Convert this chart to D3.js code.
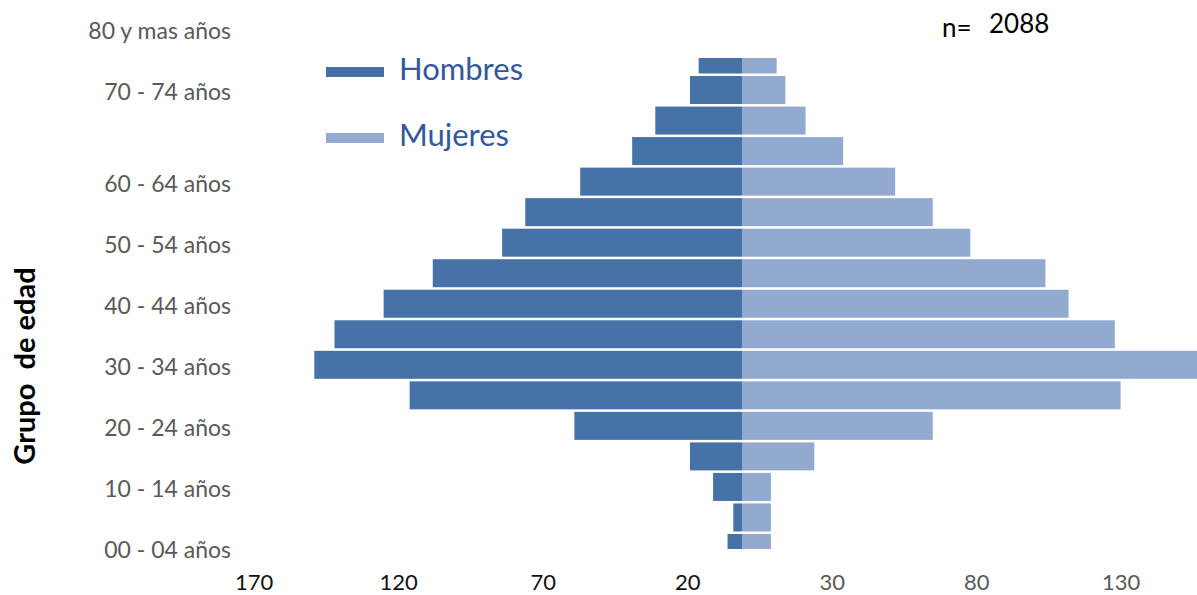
<!DOCTYPE html>
<html>
<head>
<meta charset="utf-8">
<script src="https://cdn.jsdelivr.net/npm/d3@7"></script>
<style>
  body { margin: 0; background: #fff; }
  svg { display: block; font-family: 'Lato', 'Open Sans', sans-serif; }
</style>
</head>
<body>
<div id="chart"></div>
<script>
// grupos de edad, de abajo hacia arriba
const ageGroups = ['00 - 04 años', '05 - 09 años', '10 - 14 años', '15 - 19 años', '20 - 24 años',
    '25 - 29 años', '30 - 34 años', '35 - 39 años', '40 - 44 años', '45 - 49 años', '50 - 54 años',
    '55 - 59 años', '60 - 64 años', '65 - 69 años', '70 - 74 años', '75 - 79 años', '80 y mas años'];
const hombres = [5, 3, 10, 18, 58, 115, 148, 141, 124, 107, 83, 75, 56, 38, 30, 18, 15];
const mujeres = [10, 10, 10, 25, 66, 131, 163, 129, 113, 105, 79, 66, 53, 35, 22, 15, 12];

// etiquetas del eje vertical (posicion en indice de grupo)
const yTickIdx = [0, 2, 4, 6, 8, 10, 12, 15, 17];
const yTickLabels = ['00 - 04 años', '10 - 14 años', '20 - 24 años', '30 - 34 años', '40 - 44 años',
    '50 - 54 años', '60 - 64 años', '70 - 74 años', '80 y mas años'];
const xTicks = [-170, -120, -70, -20, 30, 80, 130];

const series = ['Hombres', 'Mujeres'];
const colors = ['#4672a7', '#92aacf'];
const total = 2088;

const [svgWidth, svgHeight] = [1197, 595];

const svg = d3.select('#chart').append('svg')
    .attr('width', svgWidth)
    .attr('height', svgHeight);

const x = d3.scaleLinear().domain([-100, 100]).range([742 - 289, 742 + 289]);
const y = d3.scaleLinear().domain([0, 16]).range([548, 59.5]);
const barH = 28;

svg.append('clipPath').attr('id', 'plot')
    .append('rect').attr('x', 0).attr('y', 58).attr('width', svgWidth).attr('height', 491);

const bars = svg.append('g').attr('clip-path', 'url(#plot)');

bars.selectAll('rect.h')
    .data(hombres)
    .join('rect')
    .attr('class', 'h')
    .attr('x', d => x(-d))
    .attr('width', d => x(0) - x(-d))
    .attr('y', (d, i) => y(i) - barH / 2)
    .attr('height', barH)
    .attr('fill', colors[0]);

bars.selectAll('rect.m')
    .data(mujeres)
    .join('rect')
    .attr('class', 'm')
    .attr('x', x(0))
    .attr('width', d => x(d) - x(0))
    .attr('y', (d, i) => y(i) - barH / 2)
    .attr('height', barH)
    .attr('fill', colors[1]);

// eje vertical
const yAxis = svg.append('g')
    .attr('transform', 'translate(231,2)')
    .call(d3.axisLeft(y).tickValues(yTickIdx).tickFormat((d, i) => yTickLabels[i]).tickSize(0).tickPadding(0));
yAxis.select('.domain').remove();
yAxis.selectAll('text')
    .attr('fill', '#595959')
    .style('font-size', '23px')
    .style('font-family', 'Lato, sans-serif');

// eje horizontal
const xAxis = svg.append('g')
    .attr('transform', 'translate(3,574)')
    .call(d3.axisBottom(x).tickValues(xTicks).tickFormat(d => Math.abs(d)).tickSize(0).tickPadding(0));
xAxis.select('.domain').remove();
xAxis.selectAll('text')
    .attr('fill', d => d < 0 ? '#111' : '#595959')
    .style('font-size', '22px')
    .style('font-family', 'Lato, sans-serif');

// titulo del eje
svg.append('text')
    .attr('transform', 'translate(35,366) rotate(-90)')
    .attr('text-anchor', 'middle')
    .attr('font-weight', 'bold')
    .attr('font-size', 29)
    .attr('fill', '#000')
    .attr('xml:space', 'preserve')
    .text('Grupo  de edad');

// leyenda
const legend = svg.append('g');
const legendY = [72, 138];
series.forEach((s, i) => {
    legend.append('rect')
        .attr('x', 326)
        .attr('y', legendY[i] - 5)
        .attr('width', 58)
        .attr('height', 10)
        .attr('fill', colors[i]);
    legend.append('text')
        .attr('x', 399)
        .attr('y', legendY[i] + 8)
        .attr('font-size', 31)
        .attr('fill', '#34579a')
        .text(s);
});

// n total
svg.append('text')
    .attr('x', 942).attr('y', 37)
    .attr('font-size', 26)
    .attr('fill', '#000')
    .text('n=');
svg.append('text')
    .attr('x', 989).attr('y', 33)
    .attr('font-size', 26)
    .attr('fill', '#000')
    .text(total);
</script>
</body>
</html>
